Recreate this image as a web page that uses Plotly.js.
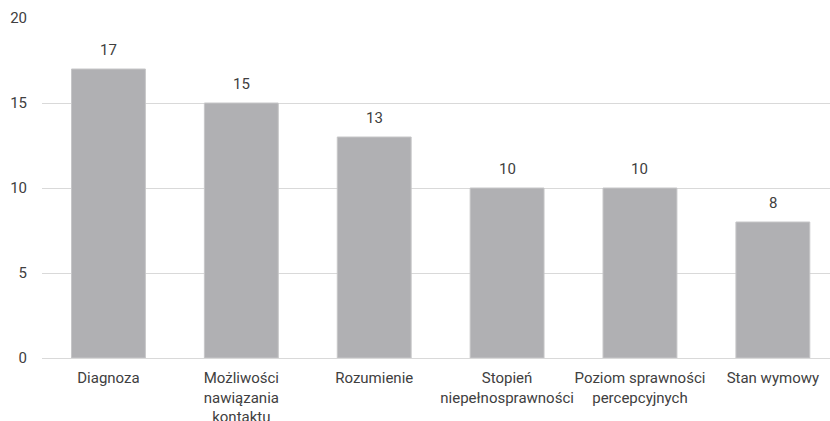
<!DOCTYPE html>
<html>
<head>
<meta charset="utf-8">
<script src="https://cdn.plot.ly/plotly-3.0.1.min.js"></script>
<style>
  html, body { margin: 0; padding: 0; background: #ffffff; }
  #chart { width: 830px; height: 421px; }
</style>
</head>
<body>
<div id="chart"></div>
<script>
// Czynniki brane pod uwagę – liczba wskazań
const categories = [
  'Diagnoza',
  'Możliwości<br>nawiązania<br>kontaktu',
  'Rozumienie',
  'Stopień<br>niepełnosprawności',
  'Poziom sprawności<br>percepcyjnych',
  'Stan wymowy'
];
const counts = [17, 15, 13, 10, 10, 8];
const yTicks = [0, 5, 10, 15, 20];

const textColor = '#404040';
const fontFamily = 'Roboto, "Noto Sans", sans-serif';

const trace = {
  type: 'bar',
  x: categories,
  y: counts,
  width: 0.556,
  marker: { color: '#b0b0b3', line: { color: '#c6c6c8', width: 1 } },
  hoverinfo: 'skip'
};

// value labels above each bar
const labels = categories.map((c, i) => ({
  x: c,
  y: counts[i],
  text: String(counts[i]),
  showarrow: false,
  xanchor: 'center',
  yanchor: 'bottom',
  yshift: 8,
  font: { family: fontFamily, size: 15, color: textColor }
}));

const layout = {
  width: 830,
  height: 421,
  margin: { l: 41.5, r: 0, t: 18, b: 63 },
  paper_bgcolor: '#ffffff',
  plot_bgcolor: '#ffffff',
  showlegend: false,
  font: { family: fontFamily, size: 15, color: textColor },
  bargap: 0.444,
  xaxis: {
    type: 'category',
    range: [-0.5, 5.43],
    showgrid: false,
    zeroline: false,
    showline: false,
    ticks: '',
    tickangle: 0,
    automargin: false,
    ticklabelstandoff: 9,
    tickfont: { family: fontFamily, size: 15, color: textColor },
    fixedrange: true
  },
  yaxis: {
    range: [0, 20],
    tickvals: yTicks,
    ticktext: yTicks.map(String),
    showgrid: true,
    gridcolor: '#d9d9d9',
    gridwidth: 1,
    zeroline: true,
    zerolinecolor: '#d9d9d9',
    zerolinewidth: 1,
    showline: false,
    ticks: '',
    automargin: false,
    ticklabelstandoff: 14,
    tickfont: { family: fontFamily, size: 15, color: textColor },
    fixedrange: true
  },
  annotations: labels
};

Plotly.newPlot('chart', [trace], layout, { displayModeBar: false, staticPlot: true });
</script>
</body>
</html>
